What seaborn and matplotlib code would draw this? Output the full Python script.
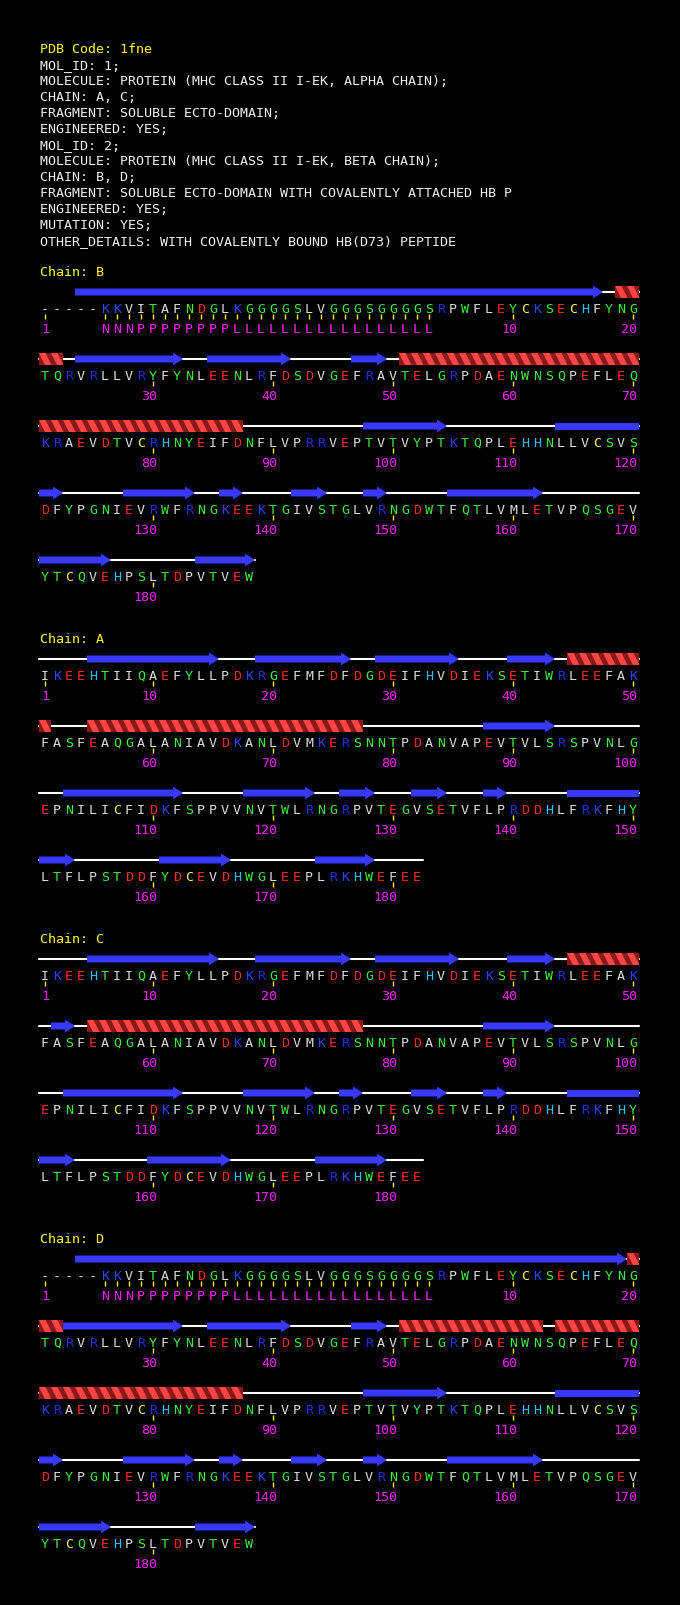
import math
import pandas as pd
import seaborn as sns
import matplotlib.pyplot as plt
from matplotlib.patches import Polygon, Rectangle
from matplotlib.collections import PolyCollection

# header text
header = [
    "PDB Code: 1fne",
    "MOL_ID: 1;",
    "MOLECULE: PROTEIN (MHC CLASS II I-EK, ALPHA CHAIN);",
    "CHAIN: A, C;",
    "FRAGMENT: SOLUBLE ECTO-DOMAIN;",
    "ENGINEERED: YES;",
    "MOL_ID: 2;",
    "MOLECULE: PROTEIN (MHC CLASS II I-EK, BETA CHAIN);",
    "CHAIN: B, D;",
    "FRAGMENT: SOLUBLE ECTO-DOMAIN WITH COVALENTLY ATTACHED HB P",
    "ENGINEERED: YES;",
    "MUTATION: YES;",
    "OTHER_DETAILS: WITH COVALENTLY BOUND HB(D73) PEPTIDE",
]

# sequences
seq_beta = ("-----KKVITAFNDGLKGGGGSLVGGGSGGGGSRPWFLEYCKSECHFYNG"
            "TQRVRLLVRYFYNLEENLRFDSDVGEFRAVTELGRPDAENWNSQPEFLEQ"
            "KRAEVDTVCRHNYEIFDNFLVPRRVEPTVTVYPTKTQPLEHHNLLVCSVS"
            "DFYPGNIEVRWFRNGKEEKTGIVSTGLVRNGDWTFQTLVMLETVPQSGEV"
            "YTCQVEHPSLTDPVTVEW")
seq_alpha = ("IKEEHTIIQAEFYLLPDKRGEFMFDFDGDEIFHVDIEKSETIWRLEEFAK"
             "FASFEAQGALANIAVDKANLDVMKERSNNTPDANVAPEVTVLSRSPVNLG"
             "EPNILICFIDKFSPPVVNVTWLRNGRPVTEGVSETVFLPRDDHLFRKFHY"
             "LTFLPSTDDFYDCEVDHWGLEEPLRKHWEFEE")

chains = ["B", "A", "C", "D"]
sequences = {"B": seq_beta, "A": seq_alpha, "C": seq_alpha, "D": seq_beta}

# secondary structure, (first, last) residue index in the chain string
strands_B = [(3, 46), (53, 61), (64, 70), (76, 78), (127, 133), (143, 151), (157, 162),
             (165, 166), (171, 173), (177, 178), (184, 191), (200, 205), (213, 217)]
helices_B = [(48, 51), (80, 116)]
strands_A = [(4, 14), (18, 25), (28, 34), (39, 42), (87, 92), (102, 111), (117, 122),
             (125, 127), (131, 133), (137, 138), (144, 152), (160, 165), (173, 177)]
helices_A = [(44, 50), (54, 76)]
strands_C = [(4, 14), (18, 25), (28, 34), (39, 42), (51, 52), (87, 92), (102, 111), (117, 122),
             (125, 126), (131, 133), (137, 138), (144, 152), (159, 165), (173, 178)]
helices_C = [(44, 49), (54, 76)]
strands_D = [(3, 48), (52, 61), (64, 70), (76, 78), (127, 133), (143, 151), (157, 162),
             (165, 166), (171, 173), (177, 178), (184, 191), (200, 205), (213, 217)]
helices_D = [(49, 51), (80, 91), (93, 116)]
strands = {"B": strands_B, "A": strands_A, "C": strands_C, "D": strands_D}
helices = {"B": helices_B, "A": helices_A, "C": helices_C, "D": helices_D}

# insertion codes of the beta chain linker and residue numbering
ins_codes = "NNNPPPPPPPPLLLLLLLLLLLLLLLLL"
ins_start = {"B": 5, "D": 5}
num_start = {"B": 33, "A": 0, "C": 0, "D": 33}
num_offset = {"B": -29, "A": 1, "C": 1, "D": -29}

# colours
res_colours = {}
for aa in "AVLIFPM-":
    res_colours[aa] = "#dcdcdc"
for aa in "GSTNQYW":
    res_colours[aa] = "#3cf03c"
for aa in "DE":
    res_colours[aa] = "#ff2828"
res_colours["K"] = "#2a44ff"
res_colours["R"] = "#2030e0"
res_colours["H"] = "#20c4ff"
res_colours["C"] = "#ffff30"
YELLOW = "#ffff00"
MAGENTA = "#ff22ff"
STRAND = "#3838ff"
HELIX_LIGHT = "#ff4444"
HELIX_DARK = "#8a1818"

# layout (pixels)
X0, DX, PER_ROW = 45, 12, 50
LINE_Y0, LINE_DY = 48, 16
LABEL_Y0, ROW_DY, LABEL_TO_ROW, ROW_TO_LABEL = 271, 67, 37, 62
FS = 9.6

sns.set_theme(style="dark", rc={"axes.facecolor": "black", "figure.facecolor": "black"})
plt.rcParams["font.family"] = ["DejaVu Sans Mono", "DejaVu Sans"]

fig = plt.figure(figsize=(6.8, 16.06), dpi=100)
ax = fig.add_axes([0, 0, 1, 1])
ax.set_facecolor("black")


def xc(col):
    return X0 + DX * col


for i, line in enumerate(header):
    ax.text(40, LINE_Y0 + LINE_DY * i + 5, line, color=YELLOW if i == 0 else "#f0f0f0",
            fontsize=FS, va="baseline", ha="left")

coil_rows = []
y_label = LABEL_Y0
seg_id = 0
for ch in chains:
    seq = sequences[ch]
    ax.text(40, y_label + 5, f"Chain: {ch}", color=YELLOW, fontsize=FS, va="baseline")
    nrows = math.ceil(len(seq) / PER_ROW)
    y = y_label + LABEL_TO_ROW
    for r in range(nrows):
        lo = r * PER_ROW
        hi = min(lo + PER_ROW, len(seq)) - 1
        ys = y - 15
        # coil line under the whole row
        present = [g for g in range(lo, hi + 1) if seq[g] != "-"]
        coil_rows.append({"x": xc(present[0] - lo) - 6, "y": ys, "seg": seg_id})
        coil_rows.append({"x": xc(present[-1] - lo) + 6, "y": ys, "seg": seg_id})
        seg_id += 1

        # strands
        for s, e in strands[ch]:
            if e < lo or s > hi:
                continue
            a, b = max(s, lo) - lo, min(e, hi) - lo
            x0, x1 = xc(a) - 6, xc(b) + 6
            if e <= hi:
                hx = x1 - 10
                pts = [(x0, ys - 3.5), (hx, ys - 3.5), (hx, ys - 6.5), (x1, ys),
                       (hx, ys + 6.5), (hx, ys + 3.5), (x0, ys + 3.5)]
            else:
                pts = [(x0, ys - 3.5), (x1, ys - 3.5), (x1, ys + 3.5), (x0, ys + 3.5)]
            ax.add_patch(Polygon(pts, closed=True, facecolor=STRAND, edgecolor="none", zorder=3))

        # helices
        for s, e in helices[ch]:
            if e < lo or s > hi:
                continue
            a, b = max(s, lo) - lo, min(e, hi) - lo
            x0, x1 = xc(a) - 6, xc(b) + 6
            band = Rectangle((x0, ys - 6), x1 - x0, 12, facecolor=HELIX_DARK,
                             edgecolor="none", zorder=3)
            ax.add_patch(band)
            stripes = []
            xs = x0 - 12
            while xs < x1 + 2:
                stripes.append([(xs, ys - 6), (xs + 6.5, ys - 6), (xs + 12.5, ys + 6), (xs + 6, ys + 6)])
                xs += 12
            pc = PolyCollection(stripes, facecolor=HELIX_LIGHT, edgecolor="none", zorder=4)
            ax.add_collection(pc)
            pc.set_clip_path(band)

        # residue letters
        for g in range(lo, hi + 1):
            aa = seq[g]
            ax.text(xc(g - lo), y + 5, aa, color=res_colours[aa], fontsize=FS,
                    ha="center", va="baseline", zorder=5)

        # numbering, ticks and insertion codes
        ticks = []
        for g in range(lo, hi + 1):
            label = None
            if g == 0:
                label = "1"
            elif g >= num_start[ch] and (g + num_offset[ch]) % 10 == 0:
                label = str(g + num_offset[ch])
            code = None
            if ch in ins_start and ins_start[ch] <= g < ins_start[ch] + len(ins_codes):
                code = ins_codes[g - ins_start[ch]]
            if label is not None:
                ax.text(xc(g - lo) + 4, y + 25, label, color=MAGENTA, fontsize=FS,
                        ha="right", va="baseline")
            if code is not None:
                ax.text(xc(g - lo), y + 25, code, color=MAGENTA, fontsize=FS,
                        ha="center", va="baseline")
            if label is not None or code is not None:
                ticks.append(xc(g - lo))
        ax.vlines(ticks, y + 7, y + 12, color=YELLOW, lw=1.0)
        y += ROW_DY
    y_label = y - ROW_DY + ROW_TO_LABEL

coil = pd.DataFrame(coil_rows)
sns.lineplot(data=coil, x="x", y="y", units="seg", estimator=None, sort=False,
             color="white", lw=1.5, ax=ax, legend=False, zorder=1)

ax.set_xlim(0, 680)
ax.set_ylim(1606, 0)
ax.set_axis_off()
fig.savefig("out.png", dpi=100, facecolor="black")
